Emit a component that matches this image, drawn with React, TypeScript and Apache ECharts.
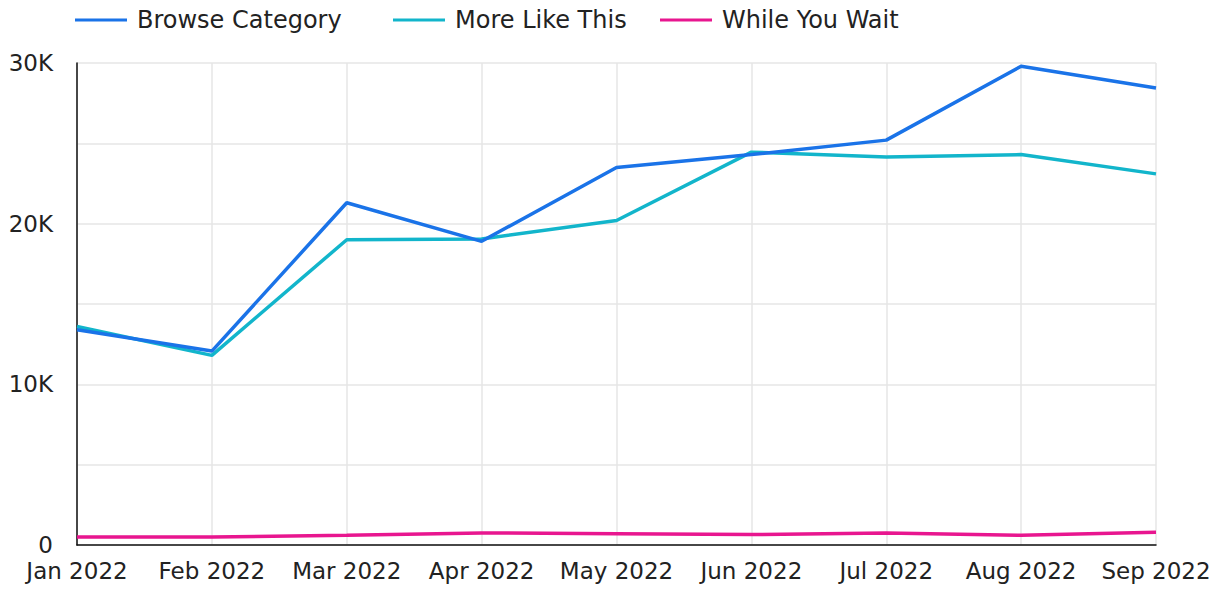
import React, { useEffect, useRef } from "react";
import * as echarts from "echarts";

const categories = ["Jan 2022", "Feb 2022", "Mar 2022", "Apr 2022", "May 2022", "Jun 2022", "Jul 2022", "Aug 2022", "Sep 2022"];
const browseCategory = [13400, 12070, 21300, 18900, 23500, 24300, 25200, 29800, 28450];
const moreLikeThis = [13600, 11800, 19000, 19050, 20200, 24450, 24150, 24300, 23100];
const whileYouWait = [500, 500, 600, 750, 700, 650, 750, 600, 800];
const seriesNames = ["Browse Category", "More Like This", "While You Wait"];
const colors = ["#1a73e8", "#12b5cb", "#e8168f"];
const legendLefts = [75, 393, 660];

const FONT = "'DejaVu Sans', 'Open Sans', sans-serif";

export default function App() {
  const ref = useRef<HTMLDivElement>(null);
  useEffect(() => {
    if (!ref.current) return;
    const chart = echarts.init(ref.current, undefined, { renderer: "svg" });
    const data = [browseCategory, moreLikeThis, whileYouWait];
    chart.setOption({
      animation: false,
      backgroundColor: "#ffffff",
      textStyle: { fontFamily: FONT },
      legend: seriesNames.map((name, i) => ({
        top: 8,
        left: legendLefts[i],
        padding: 0,
        icon: "rect",
        itemWidth: 52,
        itemHeight: 3,
        textStyle: { fontSize: 24, color: "#222", fontFamily: FONT, padding: [0, 0, 0, 5] },
        data: [name],
      })),
      grid: { left: 77, right: 69, top: 63, bottom: 47, containLabel: false },
      xAxis: {
        type: "category",
        data: categories,
        boundaryGap: false,
        axisLine: { show: true, lineStyle: { color: "#111", width: 1.5 } },
        axisTick: { show: false },
        splitLine: { show: true, lineStyle: { color: "#e6e6e6", width: 1.5 } },
        axisLabel: { fontSize: 23, color: "#222", fontFamily: FONT, margin: 14, interval: 0 },
      },
      yAxis: {
        type: "value",
        min: 0,
        max: 30000,
        interval: 5000,
        axisLine: { show: true, lineStyle: { color: "#111", width: 1.5 } },
        axisTick: { show: false },
        splitLine: { show: true, lineStyle: { color: "#e6e6e6", width: 1.5 } },
        axisLabel: {
          fontSize: 23,
          color: "#222",
          fontFamily: FONT,
          margin: 24,
          formatter: (v: number) => (v % 10000 === 0 ? (v === 0 ? "0" : v / 1000 + "K") : ""),
        },
      },
      series: seriesNames.map((name, i) => ({
        name,
        type: "line",
        data: data[i],
        showSymbol: false,
        symbol: "none",
        color: colors[i],
        lineStyle: { width: 3.5, color: colors[i] },
        z: 3 - i,
      })),
    });
    return () => chart.dispose();
  }, []);
  return <div ref={ref} style={{ position: "fixed", left: 0, top: 0, width: 1225, height: 592 }} />;
}
